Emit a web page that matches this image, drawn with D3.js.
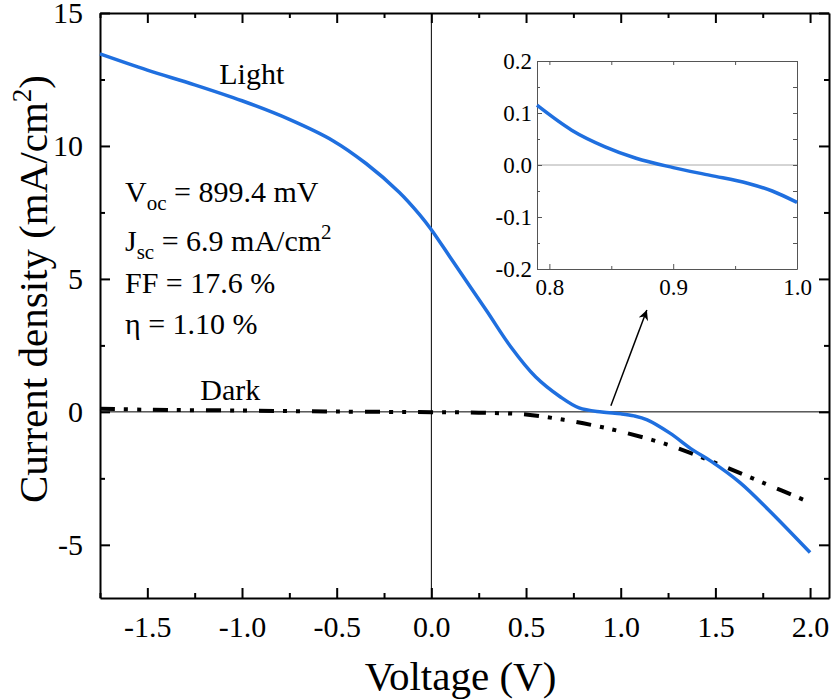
<!DOCTYPE html>
<html>
<head>
<meta charset="utf-8">
<script src="https://cdn.jsdelivr.net/npm/d3@7"></script>
</head>
<body style="margin:0">
<script>
// J-V curves, light and dark

const lightV = [-1.75, -1.5, -1.25, -1.0, -0.75, -0.52, -0.345, -0.17, -0.06, 0, 0.11, 0.29, 0.42, 0.55, 0.68, 0.78, 0.9, 1.0, 1.07, 1.14, 1.26, 1.38, 1.48, 1.63, 1.78, 2.0];
const lightJ = [13.46, 12.85, 12.3, 11.7, 11.0, 10.2, 9.34, 8.26, 7.4, 6.85, 5.7, 3.82, 2.44, 1.32, 0.57, 0.15, -0.005, -0.072, -0.15, -0.3, -0.8, -1.43, -1.87, -2.66, -3.68, -5.29];

const darkV = [-1.75, -1.5, -1.0, -0.5, 0, 0.25, 0.5, 0.7, 0.85, 1.0, 1.25, 1.5, 1.75, 2.0];
const darkJ = [0.12, 0.08, 0.05, 0.01, -0.01, -0.03, -0.1, -0.3, -0.5, -0.74, -1.24, -1.92, -2.66, -3.41];

// inset (zoom near Voc)
const insetV = [0.79, 0.818, 0.845, 0.87, 0.9, 0.93, 0.96, 0.98, 1.0];
const insetJ = [0.115, 0.067, 0.035, 0.013, -0.005, -0.02, -0.035, -0.05, -0.072];

const xTicks = [-1.5, -1.0, -0.5, 0.0, 0.5, 1.0, 1.5, 2.0];
const xMinor = [-1.75, -1.25, -0.75, -0.25, 0.25, 0.75, 1.25, 1.75];
const yTicks = [-5, 0, 5, 10, 15];
const yMinor = [-2.5, 2.5, 7.5, 12.5];
const insetXTicks = [0.8, 0.9, 1.0];
const insetXMinor = [0.85, 0.95];
const insetYTicks = [-0.2, -0.1, 0.0, 0.1, 0.2];
const insetYMinor = [-0.15, -0.05, 0.05, 0.15];

const params = ["V|oc| = 899.4 mV", "J|sc| = 6.9 mA/cm^2", "FF = 17.6 %", "η = 1.10 %"];

const serif = "Liberation Serif";
const width = 831, height = 700;
const margin = {top: 13, right: 2, bottom: 102, left: 100};
const innerW = width - margin.left - margin.right;
const innerH = height - margin.top - margin.bottom;

const svg = d3.select("body").append("svg")
    .attr("width", width)
    .attr("height", height);

const g = svg.append("g")
    .attr("transform", "translate(" + margin.left + "," + margin.top + ")");

const x = d3.scaleLinear().domain([-1.75, 2.1]).range([0, innerW]);
const y = d3.scaleLinear().domain([-7, 15]).range([innerH, 0]);

// zero lines
g.append("line").attr("x1", x(0)).attr("x2", x(0)).attr("y1", 0).attr("y2", innerH)
    .attr("stroke", "#000").attr("stroke-width", 1);
g.append("line").attr("x1", 0).attr("x2", innerW).attr("y1", y(0)).attr("y2", y(0))
    .attr("stroke", "#000").attr("stroke-width", 1);

// axes, ticks inward
function styleAxis(sel, fs) {
    sel.attr("font-family", null).attr("font-size", null);
    sel.selectAll("path.domain").attr("stroke", "#000").attr("stroke-width", 2);
    sel.selectAll(".tick line").attr("stroke", "#000").attr("stroke-width", 2);
    sel.selectAll("text").attr("font-size", fs).attr("fill", "#000");
}
const fmtX = d => d3.format(".1f")(d).replace("−", "-");
const fmtY = d => String(d).replace("−", "-");

const bottomAxis = g.append("g").attr("transform", "translate(0," + innerH + ")")
    .call(d3.axisBottom(x).tickValues(xTicks).tickSize(-10).tickSizeOuter(0).tickPadding(18).tickFormat(fmtX));
styleAxis(bottomAxis, 30);
g.append("g").attr("transform", "translate(0," + innerH + ")")
    .call(d3.axisBottom(x).tickValues(xMinor).tickSize(-5).tickFormat(""))
    .call(s => { s.select(".domain").remove(); styleAxis(s, 0); });

const topAxis = g.append("g")
    .call(d3.axisTop(x).tickValues(xTicks).tickSize(-10).tickSizeOuter(0).tickFormat(""));
styleAxis(topAxis, 0);
g.append("g")
    .call(d3.axisTop(x).tickValues(xMinor).tickSize(-5).tickFormat(""))
    .call(s => { s.select(".domain").remove(); styleAxis(s, 0); });

const leftAxis = g.append("g")
    .call(d3.axisLeft(y).tickValues(yTicks).tickSize(-10).tickSizeOuter(0).tickPadding(17).tickFormat(fmtY));
styleAxis(leftAxis, 30);
g.append("g")
    .call(d3.axisLeft(y).tickValues(yMinor).tickSize(-5).tickFormat(""))
    .call(s => { s.select(".domain").remove(); styleAxis(s, 0); });

const rightAxis = g.append("g").attr("transform", "translate(" + innerW + ",0)")
    .call(d3.axisRight(y).tickValues(yTicks).tickSize(-10).tickSizeOuter(0).tickFormat(""));
styleAxis(rightAxis, 0);
g.append("g").attr("transform", "translate(" + innerW + ",0)")
    .call(d3.axisRight(y).tickValues(yMinor).tickSize(-5).tickFormat(""))
    .call(s => { s.select(".domain").remove(); styleAxis(s, 0); });

// curves
const line = d3.line().x(d => x(d[0])).y(d => y(d[1])).curve(d3.curveCatmullRom);

g.append("path")
    .datum(darkV.map((v, i) => [v, darkJ[i]]))
    .attr("d", line)
    .attr("fill", "none")
    .attr("stroke", "#000")
    .attr("stroke-width", 4)
    .attr("stroke-dasharray", "15 9 4 9 4 12");

g.append("path")
    .datum(lightV.map((v, i) => [v, lightJ[i]]))
    .attr("d", line)
    .attr("fill", "none")
    .attr("stroke", "#1f6fdf")
    .attr("stroke-width", 3.5);

// labels
g.append("text").attr("x", x(-1.12)).attr("y", 71).attr("font-size", 30).text("Light");
g.append("text").attr("x", x(-1.22)).attr("y", 387).attr("font-size", 30).text("Dark");

const paramY = [189, 238, 280, 321];
params.forEach((p, i) => {
    const t = g.append("text").attr("x", 25).attr("y", paramY[i]).attr("font-size", 30);
    const parts = p.split("|");
    if (parts.length === 3) {
        t.append("tspan").text(parts[0]);
        t.append("tspan").attr("font-size", 21).attr("dy", 8).text(parts[1]);
        const rest = parts[2].split("^");
        t.append("tspan").attr("dy", -8).text(rest[0]);
        if (rest[1]) t.append("tspan").attr("font-size", 21).attr("dy", -12).text(rest[1]);
    } else {
        t.text(p);
    }
});

// axis titles
svg.append("text")
    .attr("x", margin.left + innerW / 2 - 4)
    .attr("y", 690)
    .attr("text-anchor", "middle")
    .attr("font-size", 41)
    .text("Voltage (V)");

const yt = svg.append("text")
    .attr("transform", "translate(47," + 289 + ") rotate(-90)")
    .attr("text-anchor", "middle")
    .attr("font-size", 41);
yt.append("tspan").text("Current density (mA/cm");
yt.append("tspan").attr("font-size", 27).attr("dy", -16).text("2");
yt.append("tspan").attr("dy", 16).text(")");

// arrow to inset
svg.append("defs").append("marker")
    .attr("id", "arrowhead")
    .attr("viewBox", "0 0 10 10")
    .attr("refX", 10).attr("refY", 5)
    .attr("markerWidth", 14).attr("markerHeight", 10)
    .attr("markerUnits", "userSpaceOnUse")
    .attr("orient", "auto")
    .append("path").attr("d", "M0,0 L10,5 L0,10 L3,5 Z").attr("fill", "#000");

g.append("line")
    .attr("x1", x(0.948)).attr("y1", y(0.23))
    .attr("x2", x(1.138)).attr("y2", y(3.83))
    .attr("stroke", "#000").attr("stroke-width", 1.5)
    .attr("marker-end", "url(#arrowhead)");

// inset
const inset = {left: 537, top: 61, w: 260, h: 208};
const ig = svg.append("g").attr("transform", "translate(" + inset.left + "," + inset.top + ")");
const ix = d3.scaleLinear().domain([0.79, 1.0]).range([0, inset.w]);
const iy = d3.scaleLinear().domain([-0.2, 0.2]).range([inset.h, 0]);

ig.append("rect").attr("width", inset.w).attr("height", inset.h).attr("fill", "#fff");
ig.append("line").attr("x1", 0).attr("x2", inset.w).attr("y1", iy(0)).attr("y2", iy(0))
    .attr("stroke", "#aaa").attr("stroke-width", 1);

function styleInset(sel) {
    sel.attr("font-family", null).attr("font-size", null);
    sel.selectAll("path.domain").attr("stroke", "#555").attr("stroke-width", 1);
    sel.selectAll(".tick line").attr("stroke", "#555").attr("stroke-width", 1);
    sel.selectAll("text").attr("font-size", 23).attr("fill", "#000");
}
const fmtI = d => d3.format(".1f")(d).replace("−", "-");

ig.append("g").attr("transform", "translate(0," + inset.h + ")")
    .call(d3.axisBottom(ix).tickValues(insetXTicks).tickSize(-5).tickSizeOuter(0).tickPadding(10).tickFormat(fmtI))
    .call(styleInset);
ig.append("g").attr("transform", "translate(0," + inset.h + ")")
    .call(d3.axisBottom(ix).tickValues(insetXMinor).tickSize(-3).tickFormat(""))
    .call(s => { s.select(".domain").remove(); styleInset(s); });
ig.append("g")
    .call(d3.axisTop(ix).tickValues(insetXTicks.concat(insetXMinor)).tickSize(-4).tickSizeOuter(0).tickFormat(""))
    .call(styleInset);
ig.append("g")
    .call(d3.axisLeft(iy).tickValues(insetYTicks).tickSize(-5).tickSizeOuter(0).tickPadding(5).tickFormat(fmtI))
    .call(styleInset);
ig.append("g")
    .call(d3.axisLeft(iy).tickValues(insetYMinor).tickSize(-3).tickFormat(""))
    .call(s => { s.select(".domain").remove(); styleInset(s); });
ig.append("g").attr("transform", "translate(" + inset.w + ",0)")
    .call(d3.axisRight(iy).tickValues(insetYTicks.concat(insetYMinor)).tickSize(-4).tickSizeOuter(0).tickFormat(""))
    .call(styleInset);

const iline = d3.line().x(d => ix(d[0])).y(d => iy(d[1])).curve(d3.curveMonotoneX);
ig.append("path")
    .datum(insetV.map((v, i) => [v, insetJ[i]]))
    .attr("d", iline)
    .attr("fill", "none")
    .attr("stroke", "#1f6fdf")
    .attr("stroke-width", 3.5);

// serif everywhere, set on each text directly
svg.selectAll("text, tspan").attr("font-family", d => serif);
</script>
</body>
</html>
